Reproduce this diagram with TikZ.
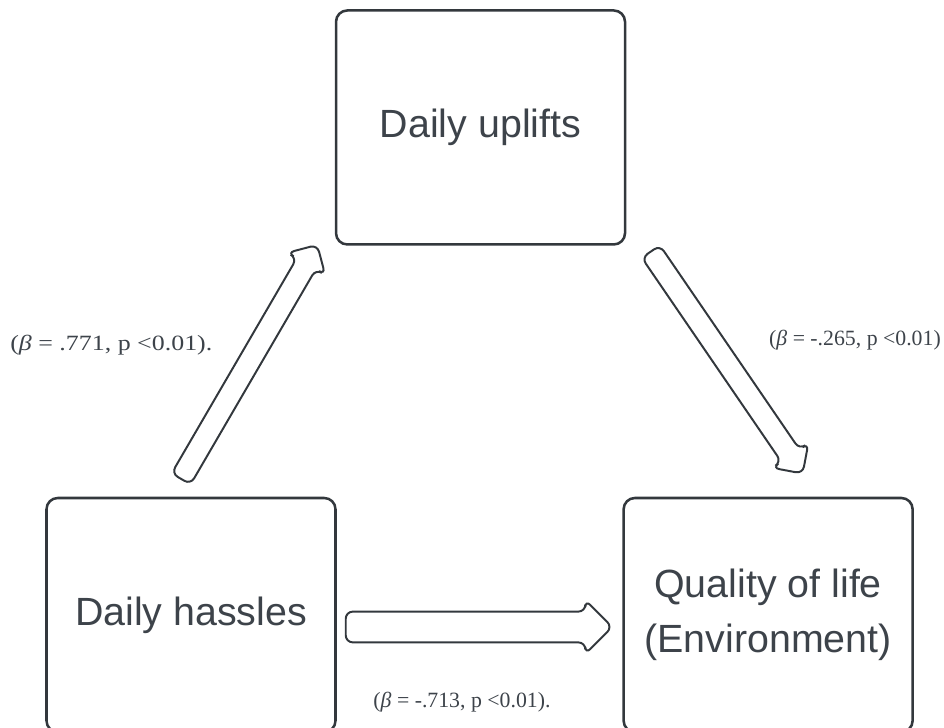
\documentclass[tikz,border=0pt]{standalone}
\usepackage{fontspec}
\setmainfont{Liberation Serif}
\setsansfont{Liberation Sans}
\usetikzlibrary{positioning, calc, shapes.arrows}
\definecolor{edgegray}{HTML}{33383D}
\definecolor{textgray}{HTML}{3D434A}

% block arrow from tail to tip: {tail}{tip}{half shaft}{head extend}
\newcommand{\fatlink}[4]{%
  \path let \p1=($(#2)-(#1)$), \n1={atan2(\y1,\x1)}, \n2={veclen(\x1,\y1)} in
    node[fatarrow=#4, inner ysep=#3, minimum height=\n2, rotate=\n1] at (#1) {};
}

\begin{document}
\begin{tikzpicture}[
  font=\sffamily,
  % Estilos de bloques
  box/.style={draw=edgegray, rectangle, rounded corners=8pt, line width=1.8pt,
    minimum width=7.225cm, minimum height=5.85cm, align=center, text=textgray,
    font=\sffamily\fontsize{28}{39}\selectfont},
  % Estilos de flechas
  fatarrow/.style={draw=edgegray, line width=1.4pt, single arrow, anchor=tail,
    minimum width=0pt, inner xsep=0pt, single arrow head extend=#1, rounded corners=5pt},
  coef/.style={font=\rmfamily\fontsize{15.5}{18}\selectfont, text=textgray, inner sep=0pt}
]

  \path[use as bounding box, clip] (0,0) rectangle (23.6,18.175);

  % ==========================================
  % VARIABLES
  % ==========================================
  \node[box] (hassles) at (4.775,2.8) {Daily hassles};
  \node[box, right=7.14cm of hassles] (quality) {Quality of life\\(Environment)};
  \node[box, anchor=south west] (uplifts) at ($(hassles.north east)+(-0.05,6.275)$) {Daily uplifts};

  % ==========================================
  % PATHS
  % ==========================================
  \coordinate (hu_tail) at ($(hassles.north)+(-0.26,0.425)$);
  \coordinate (hu_tip) at ($(uplifts.south west)+(-0.45,0)$);
  \coordinate (uq_tail) at ($(uplifts.south east)+(0.6,-0.125)$);
  \coordinate (uq_tip) at ($(quality.north)+(0.85,0.6)$);
  \coordinate (hq_tail) at ($(hassles.east)+(0.2,-0.3)$);
  \coordinate (hq_tip) at ($(quality.west)+(-0.275,-0.3)$);

  \fatlink{hu_tail}{hu_tip}{0.25cm}{0.27cm}
  \fatlink{uq_tail}{uq_tip}{0.25cm}{0.27cm}
  \fatlink{hq_tail}{hq_tip}{0.36cm}{0.29cm}

  % Coeficientes
  \node[coef, anchor=west, xscale=1.19, transform shape] (beta_hu) at (0.25,9.55) {(\textit{β} = .771, p <0.01).};
  \node[coef] (beta_uq) at (21.375,9.675) {(\textit{β} = -.265, p <0.01)};
  \node[coef] (beta_hq) at (11.55,0.625) {(\textit{β} = -.713, p <0.01).};

\end{tikzpicture}
\end{document}
